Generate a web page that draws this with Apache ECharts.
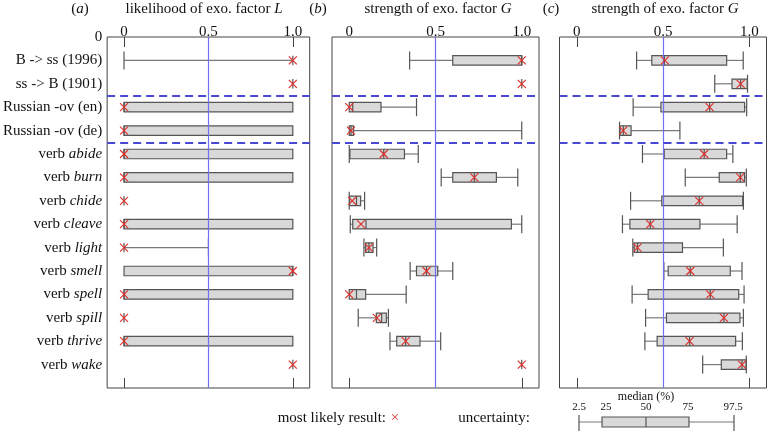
<!DOCTYPE html>
<html>
<head>
<meta charset="utf-8">
<script src="https://cdn.jsdelivr.net/npm/echarts@6/dist/echarts.min.js"></script>
<style>
  html, body { margin: 0; padding: 0; background: #fff; }
  #chart { width: 767px; height: 431px; }
</style>
</head>
<body>
<div id="chart"></div>
<script>
// row labels (index 0 is the stray "0" at the top)
const rowLabels = ['0', 'B -> ss (1996)', 'ss -> B (1901)', 'Russian -ov (en)', 'Russian -ov (de)',
  'verb abide', 'verb burn', 'verb chide', 'verb cleave', 'verb light', 'verb smell',
  'verb spell', 'verb spill', 'verb thrive', 'verb wake'];

const tickValues = [0, 0.5, 1];
const refValue = 0.5;
const separators = [2.5, 4.5];

// per row: [2.5%, 25%, 50%, 75%, 97.5%]
const statsA = [
  [0, 1, 1, 1, 1],
  [1, 1, 1, 1, 1],
  [0, 0, 0, 1, 1],
  [0, 0, 0, 1, 1],
  [0, 0, 0, 1, 1],
  [0, 0, 0, 1, 1],
  [0, 0, 0, 0, 0],
  [0, 0, 0, 1, 1],
  [0, 0, 0, 0, 0.5],
  [0, 0, 1, 1, 1],
  [0, 0, 0, 1, 1],
  [0, 0, 0, 0, 0],
  [0, 0, 0, 1, 1],
  [1, 1, 1, 1, 1]
];
const bestA = [1, 1, 0, 0, 0, 0, 0, 0, 0, 1, 0, 0, 0, 1];

const statsB = [
  [0.35, 0.60, 1.0, 1.0, 1.0],
  [1, 1, 1, 1, 1],
  [0, 0, 0.02, 0.184, 0.39],
  [0, 0, 0.01, 0.025, 1.0],
  [0, 0.004, 0.20, 0.32, 0.40],
  [0.533, 0.60, 0.725, 0.853, 0.977],
  [0, 0.002, 0.042, 0.066, 0.089],
  [0.006, 0.02, 0.097, 0.94, 1.0],
  [0.085, 0.095, 0.114, 0.138, 0.159],
  [0.353, 0.39, 0.448, 0.513, 0.60],
  [0, 0, 0.042, 0.095, 0.33],
  [0.052, 0.157, 0.188, 0.215, 0.227],
  [0.236, 0.275, 0.327, 0.41, 0.53],
  [1, 1, 1, 1, 1]
];
const bestB = [1, 1, 0, 0.01, 0.20, 0.725, 0.017, 0.068, 0.114, 0.448, 0, 0.16, 0.327, 1];

const statsC = [
  [0.347, 0.435, 0.508, 0.869, 0.965],
  [0.80, 0.90, 0.95, 0.988, 0.99],
  [0.327, 0.488, 0.77, 0.973, 0.985],
  [0.248, 0.251, 0.27, 0.315, 0.598],
  [0.381, 0.507, 0.739, 0.869, 0.905],
  [0.629, 0.826, 0.948, 0.973, 0.983],
  [0.312, 0.493, 0.71, 0.962, 0.966],
  [0.265, 0.308, 0.426, 0.714, 0.93],
  [0.325, 0.333, 0.352, 0.613, 0.85],
  [0.505, 0.53, 0.658, 0.89, 0.958],
  [0.321, 0.414, 0.774, 0.939, 0.97],
  [0.399, 0.52, 0.853, 0.946, 0.966],
  [0.395, 0.466, 0.654, 0.921, 0.96],
  [0.73, 0.838, 0.958, 0.981, 0.983]
];
const bestC = [0.511, 0.95, 0.77, 0.269, 0.739, 0.948, 0.71, 0.426, 0.352, 0.658, 0.774, 0.853, 0.654, 0.958];

const legendLabels = ['2.5', '25', '50', '75', '97.5'];

const FONT = '"Liberation Serif", "DejaVu Serif", serif';
const panels = [
  { stats: statsA, best: bestA, left: 102.7, topTicks: true },
  { stats: statsB, best: bestB, left: 332, topTicks: false },
  { stats: statsC, best: bestC, left: 559.5, topTicks: true }
];
const GRID_TOP = 37, GRID_H = 351, GRID_W = 207;
const BOX = 4.75, CAP = 9, MK = 4;

function seg(x1, y1, x2, y2, style) {
  return { type: 'line', shape: { x1: x1, y1: y1, x2: x2, y2: y2 }, style: style };
}

function renderBox(params, api) {
  const row = api.value(0);
  const y = api.coord([0, row])[1];
  const px = k => api.coord([api.value(k), row])[0];
  const lo = api.value(1), q1 = api.value(2), q3 = api.value(4), hi = api.value(5);
  const whisk = { stroke: '#7a7a7a', lineWidth: 1.2 };
  const dark = { stroke: '#555', lineWidth: 1.2 };
  const kids = [];
  if (lo < q1) {
    kids.push(seg(px(1), y, px(2), y, whisk));
    kids.push(seg(px(1), y - CAP, px(1), y + CAP, dark));
  }
  if (hi > q3) {
    kids.push(seg(px(4), y, px(5), y, whisk));
    kids.push(seg(px(5), y - CAP, px(5), y + CAP, dark));
  }
  if (q3 > q1) {
    kids.push({ type: 'rect', shape: { x: px(2), y: y - BOX, width: px(4) - px(2), height: 2 * BOX },
      style: { fill: '#d9d9d9', stroke: '#555', lineWidth: 1.2 } });
  }
  kids.push(seg(px(3), y - BOX, px(3), y + BOX, dark));
  return { type: 'group', children: kids };
}

function renderMark(params, api) {
  const c = api.coord([api.value(1), api.value(0)]);
  const st = { stroke: '#e0302c', lineWidth: 1.2 };
  return { type: 'group', children: [
    seg(c[0] - MK, c[1] - MK, c[0] + MK, c[1] + MK, st),
    seg(c[0] - MK, c[1] + MK, c[0] + MK, c[1] - MK, st)
  ] };
}

const grid = [], xAxis = [], yAxis = [], series = [];
panels.forEach((p, i) => {
  grid.push({ left: p.left, top: GRID_TOP, width: GRID_W, height: GRID_H, show: true,
    borderColor: '#444', borderWidth: 1, backgroundColor: 'transparent' });
  xAxis.push({
    type: 'value', gridIndex: i, position: 'top', min: -0.1, max: 1.1,
    axisLine: { show: false }, splitLine: { show: false },
    axisTick: { show: p.topTicks, inside: true, length: 10, customValues: tickValues, lineStyle: { color: '#444' } },
    axisLabel: { customValues: tickValues, margin: -3, fontFamily: FONT, fontSize: 15, color: '#111',
      formatter: v => (v === 1 ? '1.0' : String(v)) }
  });
  xAxis.push({
    type: 'value', gridIndex: i, position: 'bottom', min: -0.1, max: 1.1,
    axisLine: { show: false }, splitLine: { show: false },
    axisTick: { show: true, inside: true, length: 10, customValues: tickValues, lineStyle: { color: '#444' } },
    axisLabel: { show: false }
  });
  yAxis.push({
    type: 'value', gridIndex: i, inverse: true, min: 0, max: 15, interval: 1,
    axisLine: { show: false }, axisTick: { show: false }, splitLine: { show: false },
    axisLabel: {
      show: i === 0, margin: 5, fontFamily: FONT, fontSize: 15, color: '#111',
      formatter: v => {
        const s = rowLabels[v];
        if (!s) return '';
        return s.indexOf('verb ') === 0 ? 'verb {i|' + s.slice(5) + '}' : s;
      },
      rich: { i: { fontStyle: 'italic', fontFamily: FONT, fontSize: 15, color: '#111' } }
    }
  });
  series.push({
    type: 'custom', xAxisIndex: i * 2, yAxisIndex: i,
    data: p.stats.map((s, r) => [r + 1].concat(s)),
    encode: { x: [1, 2, 3, 4, 5], y: 0 },
    renderItem: renderBox, silent: true, animation: false,
    markLine: {
      silent: true, symbol: 'none', label: { show: false }, animation: false,
      data: [{ xAxis: refValue, lineStyle: { color: '#6f6ff5', width: 1.2, type: 'solid' } }]
        .concat(separators.map(v => ({ yAxis: v, lineStyle: { color: '#4848d2', width: 2, type: [8, 5] } })))
    }
  });
  series.push({
    type: 'custom', xAxisIndex: i * 2, yAxisIndex: i, z: 5,
    data: p.best.map((b, r) => [r + 1, b]),
    encode: { x: 1, y: 0 },
    renderItem: renderMark, silent: true, animation: false
  });
});

const txt = (text, x, y, size, extra) => ({
  type: 'text', x: x, y: y, silent: true,
  style: Object.assign({ text: text, fontFamily: FONT, fontSize: size, fill: '#111',
    align: 'center', verticalAlign: 'middle', textAlign: 'center', textVerticalAlign: 'middle',
    rich: { i: { fontStyle: 'italic', fontFamily: FONT, fontSize: size, fill: '#111' } } }, extra || {})
});

const lg = { stroke: '#555', lineWidth: 1.2 };
const graphic = [
  txt('({i|a})', 80, 9, 15),
  txt('likelihood of exo. factor {i|L}', 204, 9, 15),
  txt('({i|b})', 318, 9, 15),
  txt('strength of exo. factor {i|G}', 438, 9, 15),
  txt('({i|c})', 551, 9, 15),
  txt('strength of exo. factor {i|G}', 665, 9, 15),
  txt('most likely result:', 386, 418, 15, { align: 'right', textAlign: 'right' }),
  txt('\u00d7', 395, 418, 15, { fill: '#e0302c' }),
  txt('uncertainty:', 494, 418, 15),
  txt('median (%)', 646, 397, 12),
  txt(legendLabels[0], 579, 407, 11),
  txt(legendLabels[1], 606, 407, 11),
  txt(legendLabels[2], 646, 407, 11),
  txt(legendLabels[3], 688, 407, 11),
  txt(legendLabels[4], 733, 407, 11),
  { type: 'line', shape: { x1: 579, y1: 422, x2: 734, y2: 422 }, style: { stroke: '#777', lineWidth: 1.2 } },
  { type: 'line', shape: { x1: 579, y1: 415, x2: 579, y2: 431 }, style: lg },
  { type: 'line', shape: { x1: 734, y1: 415, x2: 734, y2: 431 }, style: lg },
  { type: 'rect', shape: { x: 602, y: 417, width: 87, height: 10 }, style: { fill: '#d9d9d9', stroke: '#555', lineWidth: 1.2 } },
  { type: 'line', shape: { x1: 646, y1: 417, x2: 646, y2: 427 }, style: lg }
];

const chart = echarts.init(document.getElementById('chart'), null, { renderer: 'canvas' });
chart.setOption({
  backgroundColor: '#fff',
  animation: false,
  grid: grid,
  xAxis: xAxis,
  yAxis: yAxis,
  series: series,
  graphic: graphic
});
</script>
</body>
</html>
